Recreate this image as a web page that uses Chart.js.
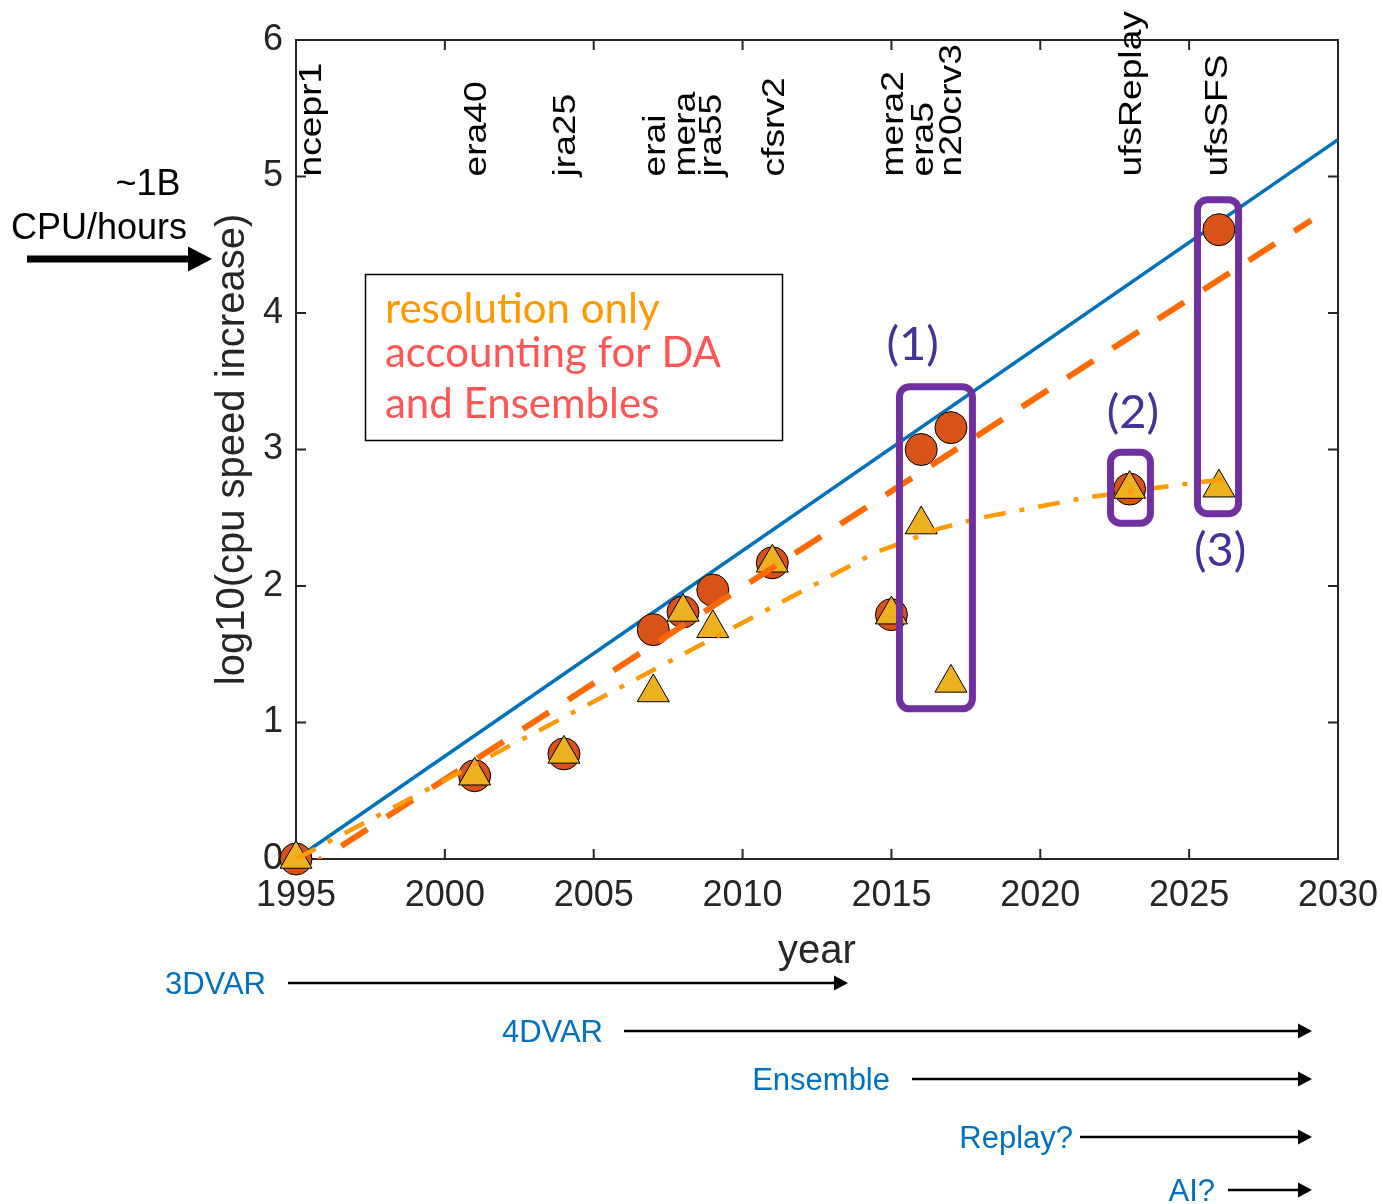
<!DOCTYPE html>
<html>
<head>
<meta charset="utf-8">
<script src="https://cdn.jsdelivr.net/npm/chart.js@4"></script>
<style>
  html, body { margin: 0; padding: 0; background: #fff; }
  #wrap { width: 1382px; height: 1204px; }
</style>
</head>
<body>
<div id="wrap"><canvas id="cpuChart"></canvas></div>
<script>
// reanalysis runs, year and log10 of cpu cost
const runYears = [1995, 2001, 2004, 2007, 2008, 2009, 2011, 2015, 2016, 2017, 2023, 2026];
const withDA  = [0, 0.61, 0.77, 1.68, 1.81, 1.97, 2.17, 1.79, 3.00, 3.16, 2.71, 4.61];
const resOnly = [0, 0.61, 0.77, 1.22, 1.81, 1.69, 2.17, 1.79, 2.45, 1.29, 2.71, 2.72];

// trend lines
const cpuYears = [1995, 2030];
const cpuVals = [0, 5.27];
const daFitYears = [1995, 2029.1];
const daFitVals = [-0.12, 4.68];
const resFitYears = [1995, 2014.5, 2015.4, 2016.6, 2018, 2021.6, 2024.6, 2026.5];
const resFitVals = [0, 2.25, 2.32, 2.42, 2.50, 2.65, 2.74, 2.79];

// names written at the top of the plot
const runNames = ['ncepr1', 'era40', 'jra25', 'erai', 'mera', 'jra55', 'cfsrv2', 'mera2', 'era5', 'n20crv3', 'ufsReplay', 'ufsSFS'];
const nameYears = [1995.55, 2001.1, 2004.1, 2007.1, 2008.1, 2009, 2011.1, 2015.1, 2016.1, 2017.05, 2023.1, 2026];

function pairs(xs, ys) {
    return xs.map((x, i) => ({ x: x, y: ys[i] }));
}

// purple highlight boxes (in data units)
const boxes = [
    { text: '(1)', x0: 2015.27, x1: 2017.72, y0: 1.10, y1: 3.46, tx: 2015.71, ty: 3.77 },
    { text: '(2)', x0: 2022.36, x1: 2023.70, y0: 2.46, y1: 2.98, tx: 2023.11, ty: 3.27 },
    { text: '(3)', x0: 2025.28, x1: 2026.66, y0: 2.53, y1: 4.83, tx: 2026.04, ty: 2.26 },
];

// data assimilation eras under the x axis
const eras = [
    { text: '3DVAR', textRight: 266, x0: 288, x1: 848, y: 983 },
    { text: '4DVAR', textRight: 603, x0: 624, x1: 1312, y: 1031 },
    { text: 'Ensemble', textRight: 890, x0: 912, x1: 1312, y: 1079 },
    { text: 'Replay?', textRight: 1073, x0: 1080, x1: 1312, y: 1137 },
    { text: 'AI?', textRight: 1215, x0: 1228, x1: 1312, y: 1190 },
];

function arrow(ctx, x0, x1, y, lw, headLen, headHalf) {
    ctx.lineWidth = lw;
    ctx.beginPath();
    ctx.moveTo(x0, y);
    ctx.lineTo(x1 - headLen + 1, y);
    ctx.stroke();
    ctx.beginPath();
    ctx.moveTo(x1, y);
    ctx.lineTo(x1 - headLen, y - headHalf);
    ctx.lineTo(x1 - headLen, y + headHalf);
    ctx.closePath();
    ctx.fill();
}

const framePlugin = {
    id: 'frame',
    beforeDatasetsDraw(chart) {
        const { ctx, chartArea: a, scales: { x, y } } = chart;
        ctx.save();
        ctx.strokeStyle = '#262626';
        ctx.lineWidth = 2;
        ctx.strokeRect(a.left, a.top, a.right - a.left, a.bottom - a.top);
        ctx.beginPath();
        x.ticks.forEach(t => {
            const px = x.getPixelForValue(t.value);
            ctx.moveTo(px, a.bottom); ctx.lineTo(px, a.bottom - 10);
            ctx.moveTo(px, a.top); ctx.lineTo(px, a.top + 10);
        });
        y.ticks.forEach(t => {
            const py = y.getPixelForValue(t.value);
            ctx.moveTo(a.left, py); ctx.lineTo(a.left + 10, py);
            ctx.moveTo(a.right, py); ctx.lineTo(a.right - 10, py);
        });
        ctx.stroke();
        ctx.restore();
    }
};

const notesPlugin = {
    id: 'notes',
    afterDatasetsDraw(chart) {
        const { ctx, scales: { x, y } } = chart;
        ctx.save();

        // run names, rotated
        ctx.fillStyle = '#000';
        ctx.font = '31px "Liberation Sans"';
        ctx.textAlign = 'left';
        ctx.textBaseline = 'middle';
        runNames.forEach((name, i) => {
            ctx.save();
            ctx.translate(x.getPixelForValue(nameYears[i]), y.getPixelForValue(5));
            ctx.rotate(-Math.PI / 2);
            ctx.scale(1.2, 1);
            ctx.fillText(name, 0, 0);
            ctx.restore();
        });

        // highlight boxes
        ctx.strokeStyle = '#7030A0';
        ctx.lineWidth = 7;
        boxes.forEach(b => {
            const left = x.getPixelForValue(b.x0), right = x.getPixelForValue(b.x1);
            const top = y.getPixelForValue(b.y1), bottom = y.getPixelForValue(b.y0);
            ctx.beginPath();
            ctx.roundRect(left, top, right - left, bottom - top, 10);
            ctx.stroke();
        });
        ctx.fillStyle = '#41339A';
        ctx.font = '47px Lato';
        ctx.textAlign = 'center';
        boxes.forEach(b => {
            ctx.fillText(b.text, x.getPixelForValue(b.tx), y.getPixelForValue(b.ty));
        });

        // text box
        ctx.fillStyle = '#fff';
        ctx.fillRect(366, 275, 416, 165);
        ctx.strokeStyle = '#000';
        ctx.lineWidth = 1.5;
        ctx.strokeRect(365.5, 274.5, 417, 166);
        ctx.textAlign = 'left';
        ctx.textBaseline = 'alphabetic';
        ctx.font = '42px Lato';
        ctx.fillStyle = '#FF9900';
        ctx.fillText('resolution only', 385, 323);
        ctx.fillStyle = '#FF5555';
        ctx.fillText('accounting for DA', 385, 367);
        ctx.fillText('and Ensembles', 385, 418);
        ctx.restore();
    },
    afterDraw(chart) {
        const ctx = chart.ctx;
        ctx.save();
        // ~1B marker on the left
        ctx.fillStyle = '#000';
        ctx.strokeStyle = '#000';
        ctx.font = '36px "Liberation Sans"';
        ctx.textAlign = 'center';
        ctx.textBaseline = 'middle';
        ctx.fillText('~1B', 148, 185);
        ctx.fillText('CPU/hours', 99, 229);
        arrow(ctx, 27, 212, 259, 7, 24, 12.5);

        // DA eras
        ctx.font = '31px "Liberation Sans"';
        ctx.textAlign = 'right';
        eras.forEach(e => {
            ctx.fillStyle = '#0070C0';
            ctx.fillText(e.text, e.textRight, e.y + 2);
            ctx.fillStyle = '#000';
            arrow(ctx, e.x0, e.x1, e.y, 2.5, 14, 7.5);
        });
        ctx.restore();
    }
};

const cpuChartConfig = {
    type: 'scatter',
    data: {
        datasets: [
            {
                label: 'resolution only fit',
                data: pairs(resFitYears, resFitVals),
                showLine: true,
                borderColor: '#FF9900',
                borderWidth: 4.5,
                borderDash: [22, 14, 5, 14],
                pointRadius: 0,
            },
            {
                label: 'DA fit',
                data: pairs(daFitYears, daFitVals),
                showLine: true,
                borderColor: '#FF6A00',
                borderWidth: 6,
                borderDash: [31, 23],
                pointRadius: 0,
            },
            {
                label: 'resolution only',
                data: pairs(runYears, resOnly),
                pointStyle: 'triangle',
                pointRadius: 18.5,
                backgroundColor: '#EDB120',
                borderColor: '#000',
                borderWidth: 1,
                clip: false,
            },
            {
                label: 'with DA',
                data: pairs(runYears, withDA),
                pointStyle: 'circle',
                pointRadius: 16,
                backgroundColor: '#D95319',
                borderColor: '#000',
                borderWidth: 1,
                clip: false,
            },
            {
                label: 'cpu speed',
                data: pairs(cpuYears, cpuVals),
                showLine: true,
                borderColor: '#0072BD',
                borderWidth: 3.5,
                pointRadius: 0,
            },
        ]
    },
    options: {
        responsive: true,
        maintainAspectRatio: false,
        animation: false,
        layout: {
            padding: { left: 209, right: 44, top: 40, bottom: 228 }
        },
        plugins: {
            legend: { display: false },
            tooltip: { enabled: false },
        },
        scales: {
            x: {
                type: 'linear',
                min: 1995,
                max: 2030,
                grid: { display: false, drawTicks: false },
                border: { display: false },
                ticks: {
                    stepSize: 5,
                    padding: 15,
                    color: '#262626',
                    font: { family: 'Liberation Sans', size: 36 },
                    callback: v => String(v),
                },
                title: {
                    display: true,
                    text: 'year',
                    color: '#262626',
                    padding: 0,
                    font: { family: 'Liberation Sans', size: 40 },
                },
                afterFit: s => { s.height = 117; s.paddingLeft = 0; s.paddingRight = 0; },
            },
            y: {
                min: 0,
                max: 6,
                grid: { display: false, drawTicks: false },
                border: { display: false },
                ticks: {
                    stepSize: 1,
                    padding: 13,
                    color: '#262626',
                    font: { family: 'Liberation Sans', size: 36 },
                },
                title: {
                    display: true,
                    text: 'log10(cpu speed increase)',
                    color: '#262626',
                    padding: 0,
                    font: { family: 'Liberation Sans', size: 40 },
                },
                afterFit: s => { s.width = 87; s.paddingTop = 0; s.paddingBottom = 0; },
            }
        }
    },
    plugins: [framePlugin, notesPlugin]
};

new Chart(document.getElementById('cpuChart').getContext('2d'), cpuChartConfig);
</script>
</body>
</html>
